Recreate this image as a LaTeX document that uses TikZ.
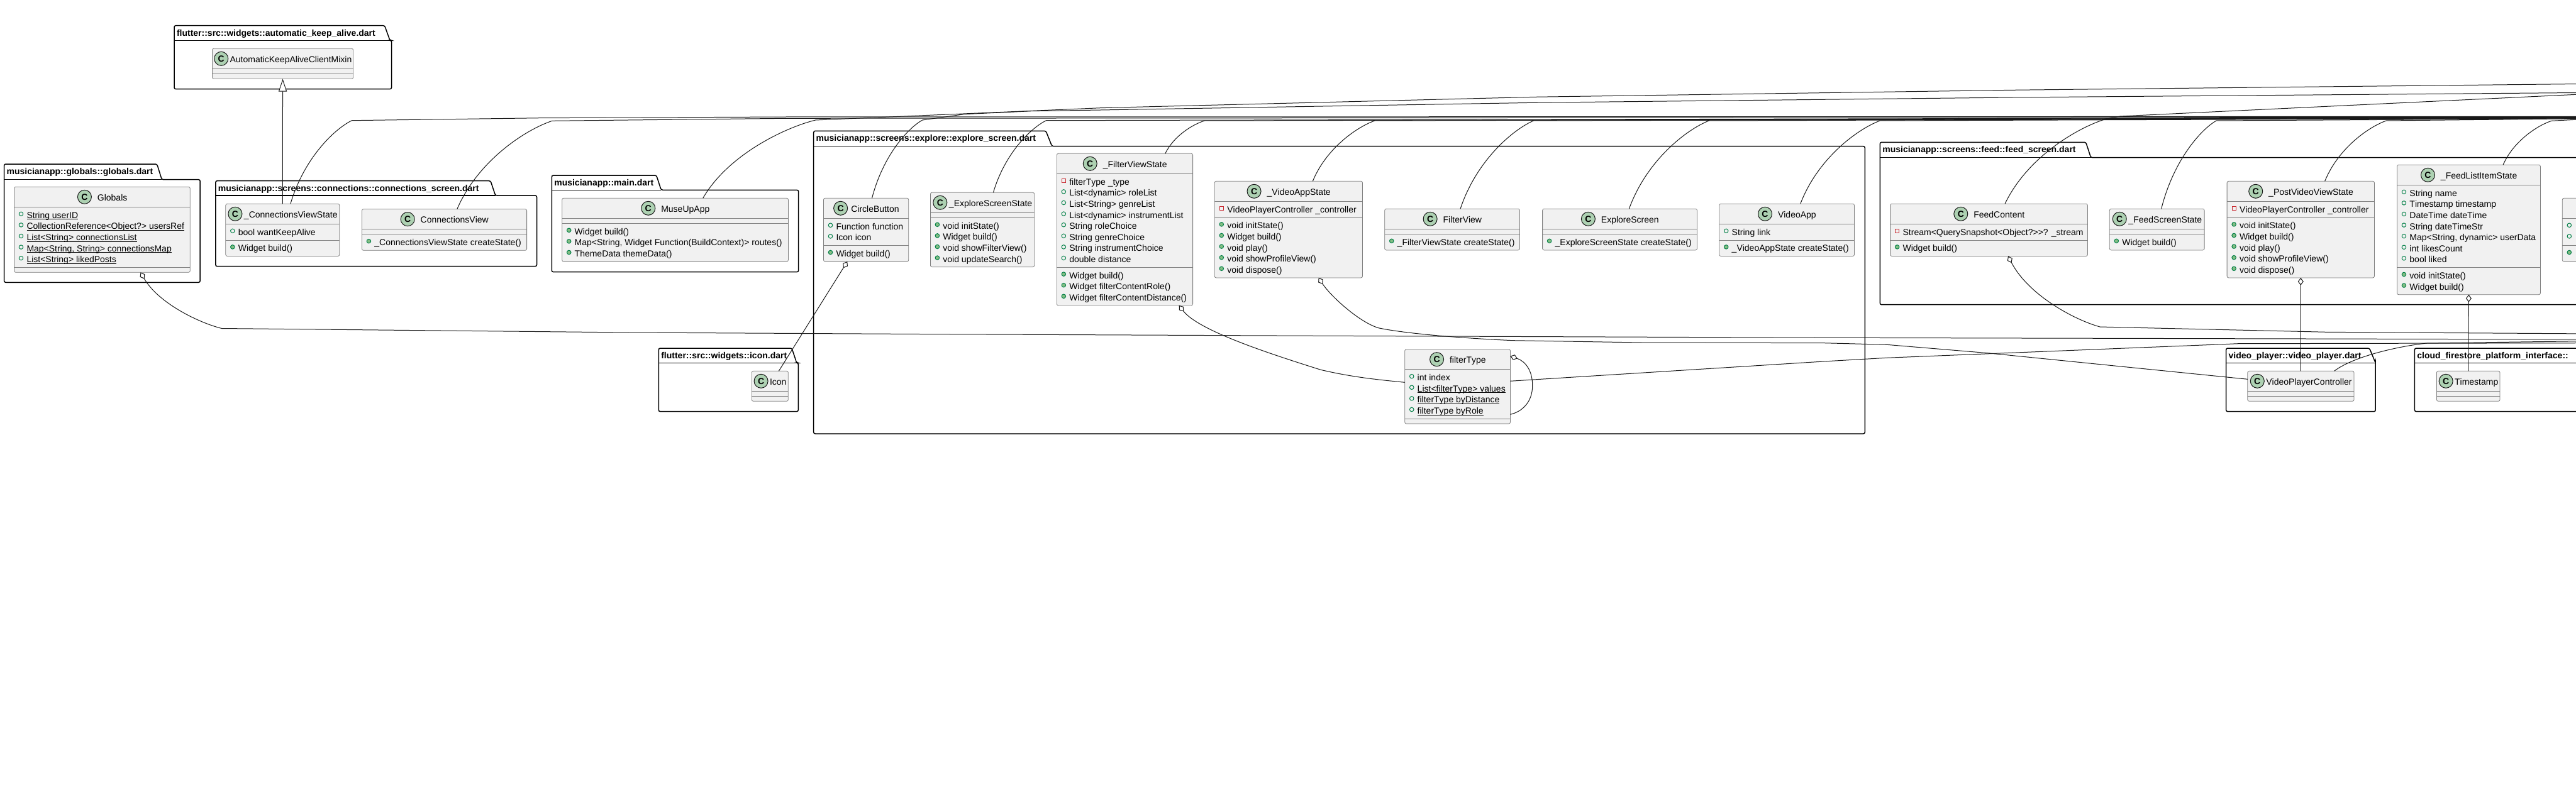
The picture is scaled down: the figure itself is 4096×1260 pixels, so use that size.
\documentclass[tikz,border=0pt]{standalone}
\usepackage{fontspec}
\setmainfont{Liberation Sans}[Ligatures={TeXOff,NoCommon},Kerning=Off]
\usetikzlibrary{arrows.meta,calc}

\definecolor{umlink}{HTML}{181818}
\definecolor{umledge}{HTML}{7F7F7F}
\definecolor{umlfill}{HTML}{F1F1F1}
\definecolor{umlspot}{HTML}{ADD1B2}
\definecolor{umlgreen}{HTML}{038048}
\definecolor{umlmeth}{HTML}{84BE84}
\definecolor{umlred}{HTML}{C82930}

\tikzset{
    every node/.style={font=\fontsize{14}{17}\selectfont, inner sep=0pt, outer sep=0pt},
    classbox/.style={draw=umledge, fill=umlfill, line width=0.8pt, rounded corners=2.5pt, anchor=north west},
    classsep/.style={draw=umledge, line width=0.8pt},
    spot/.style={circle, draw=umlink, fill=umlspot, line width=1pt, minimum size=22pt, font=\fontsize{14}{17}\selectfont\bfseries},
    fieldmark/.style={circle, draw=umlgreen, line width=1pt, minimum size=6.5pt},
    methodmark/.style={circle, draw=umlgreen, fill=umlmeth, line width=1pt, minimum size=6.5pt},
    privmark/.style={rectangle, draw=umlred, line width=1pt, minimum size=6pt},
    rowtext/.style={anchor=base west},
    pkgbox/.style={draw=black, fill=white, line width=1.5pt, rounded corners=2.5pt},
    pkgtitle/.style={anchor=base west, font=\fontsize{14}{17}\selectfont\bfseries},
    umlline/.style={draw=umlink, line width=1pt, line join=round},
    hasa/.style={{Diamond[open,fill=white,length=12pt,width=9pt]}-},
    isa/.style={{Triangle[open,fill=white,length=20.4pt,width=13.2pt]}-},
    liftcurve/.style={to path={let \p1=(\tikztostart), \p2=(\tikztotarget) in
        .. controls ({\x1+0.22*(\x2-\x1)},{\y1+0.55*(\y2-\y1)})
        and ({\x1+0.72*(\x2-\x1)},{\y1+0.9*(\y2-\y1)}) .. (\tikztotarget)}}
}

\newlength{\titlew}
\newsavebox{\titlebox}
% static members are underlined
\newcommand{\ustatic}[1]{\sbox0{#1}\rlap{\rule[-2pt]{\wd0}{1pt}}\box0}

% id, left, top, body top, right, bottom, tab top right, tab right, title
\newcommand{\umlpackage}[9]{%
    \draw[pkgbox] (#2,#4) -- (#2,#3) -- (#7,#3) -- (#8,#4) -- (#5,#4) -- (#5,#6) -- (#2,#6) -- cycle;
    \draw[draw=black, line width=1.5pt] (#2,#4) -- (#8,#4);
    \node[pkgtitle] (#1) at ({#2+4},{#3+16.7}) {#9};
}

% id, left, top, width, field rows, method rows, title
\newcommand{\umlclass}[7]{%
    \pgfmathsetmacro\boxh{48+(#5+#6)*17.6}
    \sbox{\titlebox}{\pgfinterruptpicture\fontsize{14}{17}\selectfont #7\endpgfinterruptpicture}
    \setlength{\titlew}{\wd\titlebox}
    \pgfmathsetmacro\supp{#4-32-\titlew}
    \pgfmathsetmacro\gapb{min(6.5,0.1*\supp)}
    \pgfmathsetmacro\gapa{(\supp-\gapb)/2}
    \node[classbox, minimum width=#4pt, minimum height=\boxh pt] (#1) at (#2,#3) {};
    \draw[classsep] ($(#1.north west)+(0,32)$) -- ($(#1.north east)+(0,32)$);
    \draw[classsep] ($(#1.north west)+(0,{40+#5*17.6})$) -- ($(#1.north east)+(0,{40+#5*17.6})$);
    \node[spot] (#1-spot) at ($(#1.north west)+({\gapa+15},16)$) {C};
    \node[rowtext] (#1-title) at ($(#1.north west)+({\gapa+29+\gapb},22)$) {#7};
}

% id, prefix, offset of the section, rows
\newcommand{\umlrows}[4]{%
    \foreach \vis/\txt [count=\n from 0] in {#4} {
        \node[\vis] (#1-#2\n) at ($(#1.north west)+(11,{#3+11+\n*17.6})$) {};
        \node[rowtext] (#1-#2t\n) at ($(#1.north west)+(20,{#3+18+\n*17.6})$) {\txt};
    }
}

\begin{document}
\begin{tikzpicture}[x=1pt, y=-1pt]
    \useasboundingbox (0,0) rectangle (4096,1260);
    \clip (0,0) rectangle (4096,1260);

    % packages
    \umlpackage{pkgKeepAlive}{277}{40.7}{64.3}{622.6}{141.7}{611.6}{620}{flutter::src::widgets::automatic\_keep\_alive.dart}
    \umlpackage{pkgGlobals}{6.6}{261}{285.7}{318.2}{449.3}{249.6}{257.3}{musicianapp::globals::globals.dart}
    \umlpackage{pkgConnections}{342.8}{287.7}{311}{853.5}{423.7}{780}{787.7}{musicianapp::screens::connections::connections\_screen.dart}
    \umlpackage{pkgMain}{877.3}{279}{302.3}{1269.7}{432.7}{1043.7}{1051.3}{musicianapp::main.dart}
    \umlpackage{pkgExplore}{1293.7}{208.3}{232.7}{2965.3}{690}{1663}{1672.7}{musicianapp::screens::explore::explore\_screen.dart}
    \umlpackage{pkgFeed}{2989.3}{226.3}{250.7}{4300}{484.7}{3316.6}{3324.6}{musicianapp::screens::feed::feed\_screen.dart}
    \umlpackage{pkgIcon}{1047.3}{554}{577.3}{1269.3}{654.7}{1259}{1266.7}{flutter::src::widgets::icon.dart}
    \umlpackage{pkgVideo}{3539.6}{554}{577.3}{3777.2}{654.7}{3767.5}{3777.2}{video\_player::video\_player.dart}
    \umlpackage{pkgCloud}{3839.4}{554}{577.3}{4300}{654.7}{4290}{4298}{cloud\_firestore\_platform\_interface::}

    % classes
    \umlclass{keepAlive}{337.4}{77.3}{224.3}{0}{0}{AutomaticKeepAliveClientMixin}

    \umlclass{globals}{22.5}{297.3}{279.8}{5}{0}{Globals}
    \umlrows{globals}{f}{32}{fieldmark/\ustatic{String userID},fieldmark/\ustatic{CollectionReference<Object?> usersRef},fieldmark/\ustatic{List<String> connectionsList},fieldmark/{\ustatic{Map<String, String> connectionsMap}},fieldmark/\ustatic{List<String> likedPosts}}

    \umlclass{connState}{358.8}{324.3}{181}{1}{1}{\_ConnectionsViewState}
    \umlrows{connState}{f}{32}{fieldmark/bool wantKeepAlive}
    \umlrows{connState}{m}{57.6}{methodmark/Widget build()}
    \umlclass{connView}{575.4}{332.7}{262.2}{0}{1}{ConnectionsView}
    \umlrows{connView}{m}{40}{methodmark/\_ConnectionsViewState createState()}

    \umlclass{museApp}{893.7}{315.3}{359.7}{0}{3}{MuseUpApp}
    \umlrows{museApp}{m}{40}{methodmark/Widget build(),methodmark/{Map<String, Widget Function(BuildContext)> routes()},methodmark/ThemeData themeData()}

    \umlclass{circleBtn}{1309.5}{315.3}{135.2}{2}{1}{CircleButton}
    \umlrows{circleBtn}{f}{32}{fieldmark/Function function,fieldmark/Icon icon}
    \umlrows{circleBtn}{m}{75.2}{methodmark/Widget build()}
    \umlclass{exploreState}{1479.4}{306.3}{165.3}{0}{4}{\_ExploreScreenState}
    \umlrows{exploreState}{m}{40}{methodmark/void initState(),methodmark/Widget build(),methodmark/void showFilterView(),methodmark/void updateSearch()}
    \umlclass{filterState}{1680.3}{244.3}{216.3}{8}{3}{\_FilterViewState}
    \umlrows{filterState}{f}{32}{privmark/filterType \_type,fieldmark/List<dynamic> roleList,fieldmark/List<String> genreList,fieldmark/List<dynamic> instrumentList,fieldmark/String roleChoice,fieldmark/String genreChoice,fieldmark/String instrumentChoice,fieldmark/double distance}
    \umlrows{filterState}{m}{180.8}{methodmark/Widget build(),methodmark/Widget filterContentRole(),methodmark/Widget filterContentDistance()}
    \umlclass{videoState}{1931.3}{288.3}{235.2}{1}{5}{\_VideoAppState}
    \umlrows{videoState}{f}{32}{privmark/VideoPlayerController \_controller}
    \umlrows{videoState}{m}{57.6}{methodmark/void initState(),methodmark/Widget build(),methodmark/void play(),methodmark/void showProfileView(),methodmark/void dispose()}
    \umlclass{filterView}{2201.7}{332.3}{214.8}{0}{1}{FilterView}
    \umlrows{filterView}{m}{40}{methodmark/\_FilterViewState createState()}
    \umlclass{exploreScreen}{2452.6}{332.3}{245.9}{0}{1}{ExploreScreen}
    \umlrows{exploreScreen}{m}{40}{methodmark/\_ExploreScreenState createState()}
    \umlclass{videoApp}{2733.7}{324.3}{214.8}{1}{1}{VideoApp}
    \umlrows{videoApp}{f}{32}{fieldmark/String link}
    \umlrows{videoApp}{m}{57.6}{methodmark/\_VideoAppState createState()}
    \umlclass{filterEnum}{2233.7}{555.7}{167.8}{4}{0}{filterType}
    \umlrows{filterEnum}{f}{32}{fieldmark/int index,fieldmark/\ustatic{List<filterType> values},fieldmark/\ustatic{filterType byDistance},fieldmark/\ustatic{filterType byRole}}

    \umlclass{feedContent}{3005.6}{324.3}{313.8}{1}{1}{FeedContent}
    \umlrows{feedContent}{f}{32}{privmark/Stream<QuerySnapshot<Object?>>? \_stream}
    \umlrows{feedContent}{m}{57.6}{methodmark/Widget build()}
    \umlclass{feedState}{3354.3}{332.3}{150.8}{0}{1}{\_FeedScreenState}
    \umlrows{feedState}{m}{40}{methodmark/Widget build()}
    \umlclass{postState}{3541.1}{288.3}{234.3}{1}{5}{\_PostVideoViewState}
    \umlrows{postState}{f}{32}{privmark/VideoPlayerController \_controller}
    \umlrows{postState}{m}{57.6}{methodmark/void initState(),methodmark/Widget build(),methodmark/void play(),methodmark/void showProfileView(),methodmark/void dispose()}
    \umlclass{itemState}{3811.4}{262.3}{228}{7}{2}{\_FeedListItemState}
    \umlrows{itemState}{f}{32}{fieldmark/String name,fieldmark/Timestamp timestamp,fieldmark/DateTime dateTime,fieldmark/String dateTimeStr,fieldmark/{Map<String, dynamic> userData},fieldmark/int likesCount,fieldmark/bool liked}
    \umlrows{itemState}{m}{163.2}{methodmark/void initState(),methodmark/Widget build()}
    % this one runs off the right edge
    \umlclass{cutClass}{4074.3}{315.3}{200}{2}{1}{}
    \umlrows{cutClass}{f}{32}{fieldmark/{},fieldmark/{}}
    \umlrows{cutClass}{m}{75.2}{methodmark/{}}

    \umlclass{iconClass}{1195.3}{590.3}{58}{0}{0}{Icon}
    \umlclass{playerCtrl}{3573.8}{590.3}{169.2}{0}{0}{VideoPlayerController}
    \umlclass{stampClass}{3874.4}{590.3}{100.6}{0}{0}{Timestamp}

    % connectors
    \draw[umlline, isa] (keepAlive.south) -- (connState.north);
    \draw[umlline, hasa] (postState.south) -- (playerCtrl.north);
    \draw[umlline, hasa] (itemState.south) -- (stampClass.north);
    \draw[umlline, hasa] ($(circleBtn.south west)+(37.8,0)$) -- ($(iconClass.north west)+(43,0)$);

    % long runs towards classes past the right edge
    \foreach \cls/\ox/\kx/\ky/\ey in {exploreState/100/1663.5/191.7/186.5,filterState/172.5/1915.5/192/187,
        videoState/156/2186/192/187,filterView/120.3/2438.5/192/187.5,exploreScreen/137.7/2717.3/192/187.5,
        videoApp/129/2989.3/192/188,feedState/82.3/3524/192/188.5,postState/155.5/3794.3/192/188.5,
        itemState/168.6/4057/192.3/189} {
        \draw[umlline] ($(\cls.north west)+(\ox,0)$) to[liftcurve] (\kx,\ky) -- (4120,\ey);
    }
    \draw[umlline] ($(connState.north west)+(103.1,0)$) to[liftcurve] (559.5,191.7) -- (860,187.7) -- (1250,186) -- (4120,185.3);
    \draw[umlline] ($(connView.north west)+(151.4,0)$) to[liftcurve] (877.9,192.3) -- (1250,188.3) -- (4120,186.3);
    \draw[umlline] ($(museApp.north west)+(224,0)$) to[liftcurve] (1296.7,191) -- (1750,171.7) -- (2440,154.3) -- (3200,143.3) -- (4120,133.3);
    \draw[umlline] ($(circleBtn.north west)+(77,0)$) to[liftcurve] (1466.7,191) -- (1533,181.7) -- (1640,176.7) -- (1750,175) -- (2440,163.3) -- (3200,155) -- (4120,147.3);
    \draw[umlline] ($(feedContent.north west)+(182.4,0)$) to[liftcurve] (3348.6,189.3) -- (3371,185) -- (4120,149.2);
    \draw[umlline] ($(playerCtrl.north west)+(137.7,0)$) to[liftcurve] (3858.3,546) -- (4120,542.5);

    % aggregation lines below the boxes
    \draw[umlline, hasa] ($(globals.south west)+(201,0)$) to[liftcurve] (352.6,522.5) -- (1000,529) -- (1500,531.7) -- (2100,534.3) -- (2900,537.3) -- (4120,540);
    \draw[umlline, hasa] ($(filterState.south west)+(194.4,0)$) .. controls (1905,525) and (2010,560) .. (2100,588.3)
        .. controls (2150,600) and (2190,604) .. ($(filterEnum.north west)+(0,52.6)$);
    \draw[umlline, hasa] ($(videoState.south west)+(165.3,0)$) .. controls (2115,470) and (2160,512) .. (2191.8,521.7)
        .. controls (2230,530) and (2320,538) .. (2406,541.7) -- (2610,545) -- (2900,545.7) -- (3000,548.3) -- (3160.8,561.7) -- ($(playerCtrl.north west)+(0,13)$);
    \draw[umlline] ($(filterEnum.north east)+(0,50.6)$) -- (2900,575) -- (3000,569.3) -- (3559,546.7) -- (4120,545.7);
    \draw[umlline, hasa] ($(filterEnum.north east)+(0,10.8)$) .. controls (2426,575) and (2436.7,590) .. (2436.7,613.3)
        .. controls (2436.7,640) and (2420,655) .. ($(filterEnum.north east)+(0,103.6)$);
    \draw[umlline, hasa] ($(feedContent.south west)+(187.4,0)$) to[liftcurve] (3339,520) -- (3699,528.3) -- (4120,531);
\end{tikzpicture}
\end{document}
